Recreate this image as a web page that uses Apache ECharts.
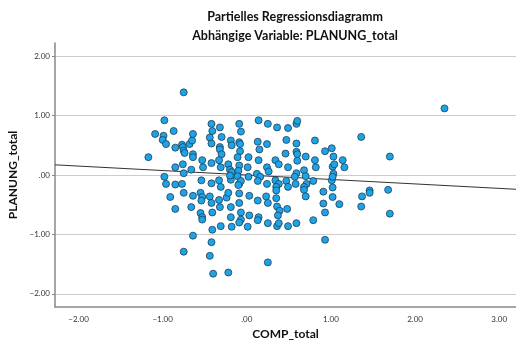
<!DOCTYPE html>
<html>
<head>
<meta charset="utf-8">
<script src="https://cdn.jsdelivr.net/npm/echarts@6/dist/echarts.min.js"></script>
<style>
  html, body { margin: 0; padding: 0; background: #ffffff; }
  #chart { width: 516px; height: 347px; }
</style>
</head>
<body>
<div id="chart"></div>
<script>
// Partial regression plot: residuals of PLANUNG_total vs residuals of COMP_total
const titleLines = ['Partielles Regressionsdiagramm', 'Abhängige Variable: PLANUNG_total'];
const xName = 'COMP_total';
const yName = 'PLANUNG_total';

const xTicks = [-2, -1, 0, 1, 2, 3];
const yTicks = [-2, -1, 0, 1, 2];
const xRange = [-2.28, 3.2];
const yRange = [-2.22, 2.22];

// residual pairs [COMP_total, PLANUNG_total]
const residualsUpperLeft = [
  [-0.75, 1.39], [-0.98, 0.92], [-1.09, 0.69], [-0.99, 0.66], [-1.00, 0.59], [-0.96, 0.52],
  [-0.87, 0.74], [-0.85, 0.46], [-0.77, 0.51], [-0.76, 0.47], [-0.75, 0.41], [-0.74, 0.37],
  [-0.68, 0.52], [-0.65, 0.58], [-0.64, 0.69], [-0.64, 0.35], [-0.64, 0.30], [-1.17, 0.30],
  [-0.85, 0.13], [-0.76, 0.18], [-0.66, 0.09], [-0.75, 0.03], [-0.53, 0.25], [-0.52, 0.13],
  [-0.42, 0.86], [-0.41, 0.74], [-0.32, 0.80], [-0.44, 0.63], [-0.42, 0.53], [-0.30, 0.64],
  [-0.32, 0.47], [-0.32, 0.43], [-0.30, 0.35], [-0.33, 0.25], [-0.42, 0.20], [-0.31, 0.13],
  [-0.22, 0.18], [-0.19, 0.58], [-0.18, 0.50], [-0.09, 0.86], [-0.07, 0.73], [-0.09, 0.55],
  [-0.08, 0.52], [-0.08, 0.40], [-0.11, 0.30], [0.02, 0.30], [0.01, 0.13], [-0.09, 0.16],
  [-0.20, 0.09], [-0.18, 0.05], [-0.10, 0.07]
];
const residualsLowerLeft = [
  [-0.98, -0.03], [-0.96, -0.15], [-0.85, -0.16], [-0.77, -0.15], [-0.75, -0.30], [-0.91, -0.37],
  [-0.85, -0.57], [-0.66, -0.54], [-0.64, -0.35], [-0.55, -0.30], [-0.53, -0.37], [-0.54, -0.43],
  [-0.55, -0.64], [-0.53, -0.71], [-0.53, -0.75], [-0.54, -0.09], [-0.42, -0.14], [-0.44, -0.36],
  [-0.42, -0.47], [-0.41, -0.63], [-0.41, -0.92], [-0.64, -1.02], [-0.42, -1.13], [-0.75, -1.29],
  [-0.44, -1.36], [-0.40, -1.66], [-0.22, -1.64], [-0.33, -0.09], [-0.31, -0.20], [-0.33, -0.42],
  [-0.32, -0.54], [-0.24, -0.38], [-0.22, -0.30], [-0.19, -0.54], [-0.19, -0.71], [-0.31, -0.86],
  [-0.18, -0.87], [-0.19, -0.08], [-0.11, -0.02], [-0.09, -0.15], [-0.07, -0.10], [-0.10, -0.17],
  [-0.09, -0.31], [-0.09, -0.47], [-0.07, -0.63], [-0.07, -0.75], [-0.09, -0.80], [0.01, -0.87],
  [0.03, -0.68], [0.03, -0.35], [0.02, -0.03], [-0.20, -0.01]
];
const residualsUpperRight = [
  [0.14, 0.92], [0.25, 0.86], [0.36, 0.80], [0.49, 0.79], [0.59, 0.86], [0.60, 0.91],
  [0.13, 0.56], [0.24, 0.52], [0.15, 0.43], [0.47, 0.59], [0.59, 0.53], [0.46, 0.36],
  [0.59, 0.39], [0.60, 0.35], [0.81, 0.58], [0.93, 0.40], [1.01, 0.45], [1.36, 0.64],
  [0.14, 0.25], [0.34, 0.25], [0.38, 0.18], [0.60, 0.24], [0.70, 0.31], [0.81, 0.25],
  [1.03, 0.31], [1.14, 0.25], [0.24, 0.13], [0.26, 0.06], [0.49, 0.13], [0.59, 0.03],
  [0.68, 0.08], [0.82, 0.13], [1.02, 0.14], [1.04, 0.18], [1.16, 0.13], [1.03, 0.02],
  [0.12, 0.02], [2.35, 1.12], [1.70, 0.31]
];
const residualsLowerRight = [
  [0.16, -0.03], [0.13, -0.10], [0.24, -0.15], [0.34, -0.09], [0.38, -0.15], [0.35, -0.20],
  [0.35, -0.26], [0.47, -0.10], [0.49, -0.20], [0.57, -0.03], [0.58, -0.15], [0.70, -0.02],
  [0.71, -0.15], [0.68, -0.20], [0.68, -0.25], [0.79, -0.10], [1.01, -0.09], [1.02, -0.03],
  [0.13, -0.43], [0.25, -0.47], [0.23, -0.36], [0.35, -0.39], [0.36, -0.53], [0.39, -0.60],
  [0.37, -0.68], [0.14, -0.71], [0.13, -0.76], [0.25, -0.81], [0.36, -0.86], [0.38, -0.81],
  [0.48, -0.57], [0.49, -0.86], [0.59, -0.81], [0.70, -0.36], [0.79, -0.76], [0.91, -0.28],
  [0.91, -0.48], [0.93, -0.63], [1.02, -0.21], [1.02, -0.37], [1.10, -0.49], [0.93, -1.09],
  [1.37, -0.36], [1.36, -0.53], [1.46, -0.26], [1.46, -0.30], [0.25, -1.47],
  [1.68, -0.25], [1.70, -0.65]
];

// fitted line through the residual cloud
const fitSlope = -0.075;
const fitIntercept = 0;

const points = [].concat(residualsUpperLeft, residualsLowerLeft, residualsUpperRight, residualsLowerRight);
const fitLine = xRange.map(x => [x, fitIntercept + fitSlope * x]);

function fmt(v) {
  if (v === 0) return '.00';
  const s = Math.abs(v).toFixed(2);
  return (v < 0 ? '\u2212' : '') + s;
}

const chart = echarts.init(document.getElementById('chart'), null, { renderer: 'canvas' });
const font = 'Lato, "Open Sans", "DejaVu Sans", sans-serif';

chart.setOption({
  animation: false,
  backgroundColor: '#ffffff',
  title: [
    { text: titleLines[0], left: 290, top: 5, textAlign: 'center',
      textStyle: { fontFamily: font, fontSize: 12.5, fontWeight: 'bold', color: '#111' } },
    { text: titleLines[1], left: 290, top: 24, textAlign: 'center',
      textStyle: { fontFamily: font, fontSize: 12.5, fontWeight: 'bold', color: '#111' } }
  ],
  grid: { left: 55, right: 0, top: 43, bottom: 40, containLabel: false, outerBoundsMode: 'none' },
  xAxis: {
    type: 'value', min: xRange[0], max: xRange[1],
    name: xName, nameLocation: 'middle', nameGap: 20,
    nameTextStyle: { fontFamily: font, fontSize: 12, fontWeight: 'bold', color: '#111' },
    axisLine: { show: true, onZero: false, lineStyle: { color: '#888', width: 1.5 } },
    axisTick: { show: false, customValues: xTicks },
    axisLabel: { customValues: xTicks, formatter: fmt, fontFamily: font, fontSize: 8, color: '#333', margin: 8 },
    splitLine: { show: false }
  },
  yAxis: {
    type: 'value', min: yRange[0], max: yRange[1],
    name: yName, nameLocation: 'middle', nameGap: 24, nameRotate: 90,
    nameTextStyle: { fontFamily: font, fontSize: 12, fontWeight: 'bold', color: '#111' },
    axisLine: { show: true, onZero: false, lineStyle: { color: '#888', width: 1.5 } },
    axisTick: { show: true, length: 3, customValues: yTicks, lineStyle: { color: '#888' } },
    axisLabel: { customValues: yTicks, formatter: fmt, fontFamily: font, fontSize: 8, color: '#333', margin: 5 },
    splitLine: { show: true, lineStyle: { color: '#cccccc', width: 1 } }
  },
  series: [
    {
      type: 'line', data: fitLine, symbol: 'none', silent: true,
      lineStyle: { color: '#333333', width: 1 }, z: 3
    },
    {
      type: 'scatter', data: points, symbolSize: 7,
      itemStyle: { color: '#1ea3e6', borderColor: '#1f3f55', borderWidth: 0.8, opacity: 1 },
      z: 4
    }
  ]
});
</script>
</body>
</html>
